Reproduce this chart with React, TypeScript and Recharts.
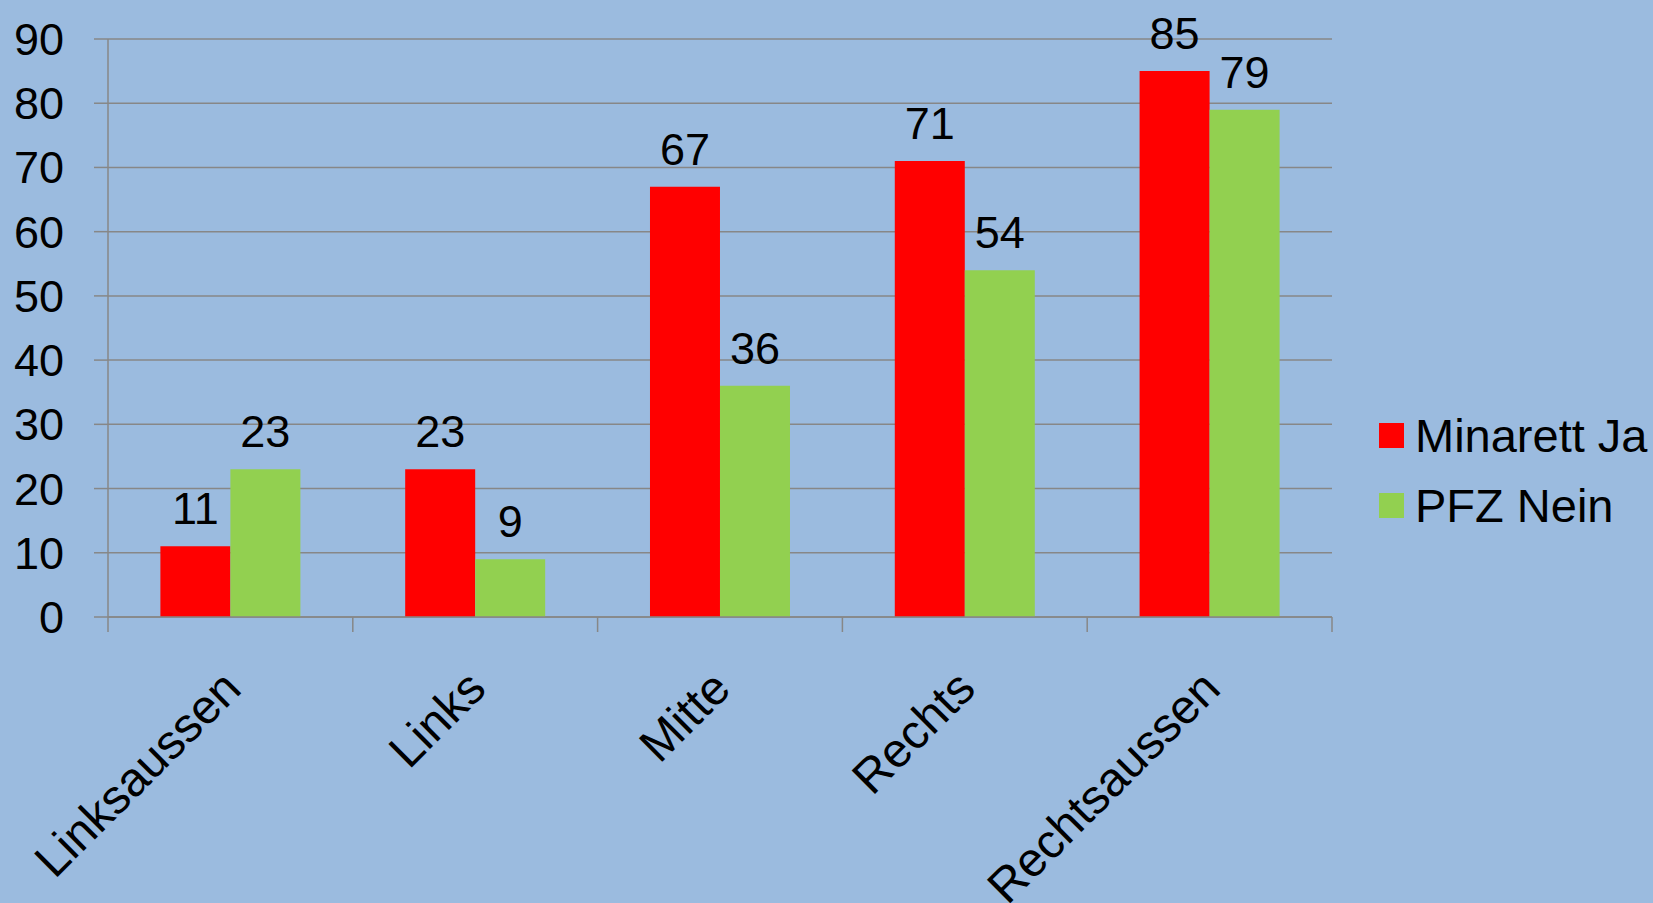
import React from 'react'
import { BarChart, Bar, XAxis, YAxis, CartesianGrid, Legend, LabelList } from 'recharts'

const categories = ['Linksaussen', 'Links', 'Mitte', 'Rechts', 'Rechtsaussen']
const minarettJa = [11, 23, 67, 71, 85]
const pfzNein = [23, 9, 36, 54, 79]
const yTicks = [0, 10, 20, 30, 40, 50, 60, 70, 80, 90]

const seriesInfo = [
  { key: 'ja', name: 'Minarett Ja', color: '#FF0000' },
  { key: 'nein', name: 'PFZ Nein', color: '#92D050' },
]

const data = categories.map((c, i) => ({ cat: c, ja: minarettJa[i], nein: pfzNein[i] }))

const FONT = '"Liberation Sans", Arial, sans-serif'
const GRID = '#878787'

// category label plus the tick marks on the category boundaries
function CatTick(props: any) {
  const { x, y, payload, index } = props
  const half = payload?.offset ?? 0
  const ax = x + 13
  const ay = y + 74
  return (
    <g>
      <line x1={x - half} y1={y} x2={x - half} y2={y + 15} stroke={GRID} strokeWidth={1.5} />
      {index === categories.length - 1 && (
        <line x1={x + half} y1={y} x2={x + half} y2={y + 15} stroke={GRID} strokeWidth={1.5} />
      )}
      <text x={ax} y={ay} textAnchor="end" fontSize={48} fontFamily={FONT} fill="#000"
        transform={`rotate(-45 ${ax} ${ay})`}>
        {payload.value}
      </text>
    </g>
  )
}

function LegendBox() {
  return (
    <div style={{ fontFamily: FONT, fontSize: 47, color: '#000' }}>
      {seriesInfo.map((s) => (
        <div key={s.key} style={{ display: 'flex', alignItems: 'center', height: 70 }}>
          <span style={{ display: 'inline-block', width: 25, height: 25, background: s.color, marginRight: 11 }} />
          <span style={{ lineHeight: '47px', whiteSpace: 'nowrap' }}>{s.name}</span>
        </div>
      ))}
    </div>
  )
}

export default function App() {
  return (
    <div style={{ position: 'fixed', left: 0, top: 0, width: 1653, height: 903, background: '#9BBBDF', overflow: 'hidden' }}>
      <BarChart width={1653} height={903} data={data}
        margin={{ top: 39, right: 41, left: 0, bottom: 0 }}
        barCategoryGap="21.4%" barGap={0}>
        <CartesianGrid vertical={false} stroke={GRID} strokeWidth={1.5} />
        <XAxis dataKey="cat" height={286} tick={<CatTick />} tickLine={false}
          stroke={GRID} strokeWidth={1.5} tickSize={0} tickMargin={0} interval={0} />
        <YAxis domain={[0, 90]} ticks={yTicks} width={108} tickSize={14} tickMargin={30}
          stroke={GRID} strokeWidth={1.5}
          tick={{ fontSize: 45, fontFamily: FONT, fill: '#000' }} />
        <Legend layout="vertical" align="right" verticalAlign="top" content={<LegendBox />}
          wrapperStyle={{ left: 1379, top: 400, width: 280 }} />
        {seriesInfo.map((s) => (
          <Bar key={s.key} dataKey={s.key} name={s.name} fill={s.color} isAnimationActive={false}>
            <LabelList dataKey={s.key} position="top" offset={22} fontSize={45} fontFamily={FONT} fill="#000" />
          </Bar>
        ))}
      </BarChart>
    </div>
  )
}
